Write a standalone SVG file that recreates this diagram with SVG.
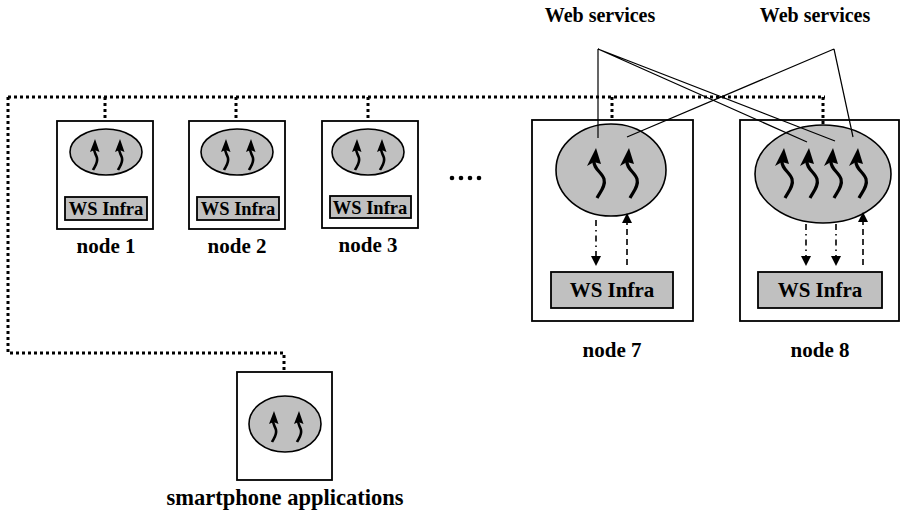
<svg xmlns="http://www.w3.org/2000/svg" width="902" height="516" viewBox="0 0 902 516">
  <style>
    .box { fill: #fff; stroke: #000; stroke-width: 1.8; }
    .proc { fill: #c0c0c0; stroke: #000; stroke-width: 1.6; }
    .infra { fill: #c0c0c0; stroke: #000; stroke-width: 1.8; }
    .bus { fill: none; stroke: #000; stroke-width: 3; stroke-dasharray: 3 3; }
    .thread { fill: none; stroke: #000; stroke-width: 3.2; }
    .thin { fill: none; stroke: #000; stroke-width: 2.6; }
    .wire { fill: none; stroke: #000; stroke-width: 1.2; }
    .call { fill: none; stroke: #000; stroke-width: 1.6; stroke-dasharray: 6 4 1.5 4; }
    .reply { fill: none; stroke: #000; stroke-width: 1.6; stroke-dasharray: 6 4; }
    .lbl { font-size: 21px; }
    .ws { font-size: 18.5px; }
    .wsb { font-size: 21px; }
    .svc { font-size: 20px; }
  </style>
  <defs>
    <marker id="ah" viewBox="0 0 10 10" refX="9" refY="5" markerWidth="12" markerHeight="10" markerUnits="userSpaceOnUse" orient="auto">
      <path d="M0,0 L10,5 L0,10 Z" fill="#000"/>
    </marker>
    <!-- thread glyphs: wavy shaft topped by an arrowhead, tip at the origin -->
    <g id="bigThread">
      <path class="thread" d="M1,50 C4,44 10,38 8,31 C6,24 -3,21 -2,12"/>
      <path d="M0,0 L-9,18 L-2,14 L5,16 Z" fill="#000"/>
    </g>
    <g id="smallThread">
      <path class="thin" d="M-2,31 C0,27 3,24 2,19 C1,15 -1,14 -1,9"/>
      <path d="M0,0 L-5,13 L-0.5,11 L4.5,13 Z" fill="#000"/>
    </g>
  </defs>

  <g id="ws-label-1"><text class="svc" x="600" y="22" font-family="'Liberation Serif', 'Times New Roman', Times, serif" font-weight="bold" text-anchor="middle">Web services</text></g>
  <g id="ws-label-2"><text class="svc" x="815" y="22" font-family="'Liberation Serif', 'Times New Roman', Times, serif" font-weight="bold" text-anchor="middle">Web services</text></g>

  <g id="node1">
    <rect class="box" x="57" y="121" width="96" height="108"/>
    <ellipse class="proc" cx="106" cy="152" rx="36" ry="23"/>
    <use href="#smallThread" x="95" y="139"/>
    <use href="#smallThread" x="120" y="139"/>
    <rect class="infra" x="65" y="197" width="82" height="23"/>
    <text class="ws" x="106" y="215" font-family="'Liberation Serif', 'Times New Roman', Times, serif" font-weight="bold" text-anchor="middle">WS Infra</text>
    <text class="lbl" x="106" y="253" font-family="'Liberation Serif', 'Times New Roman', Times, serif" font-weight="bold" text-anchor="middle">node 1</text>
  </g>

  <g id="node2">
    <rect class="box" x="189" y="121" width="96" height="108"/>
    <ellipse class="proc" cx="237" cy="152" rx="36" ry="23"/>
    <use href="#smallThread" x="226" y="139"/>
    <use href="#smallThread" x="251" y="139"/>
    <rect class="infra" x="197" y="197" width="82" height="23"/>
    <text class="ws" x="238" y="215" font-family="'Liberation Serif', 'Times New Roman', Times, serif" font-weight="bold" text-anchor="middle">WS Infra</text>
    <text class="lbl" x="237" y="253" font-family="'Liberation Serif', 'Times New Roman', Times, serif" font-weight="bold" text-anchor="middle">node 2</text>
  </g>

  <g id="node3">
    <rect class="box" x="322" y="121" width="96" height="107"/>
    <ellipse class="proc" cx="368" cy="152" rx="36" ry="23"/>
    <use href="#smallThread" x="357" y="139"/>
    <use href="#smallThread" x="382" y="139"/>
    <rect class="infra" x="330" y="196" width="81" height="22"/>
    <text class="ws" x="370" y="214" font-family="'Liberation Serif', 'Times New Roman', Times, serif" font-weight="bold" text-anchor="middle">WS Infra</text>
    <text class="lbl" x="368" y="252" font-family="'Liberation Serif', 'Times New Roman', Times, serif" font-weight="bold" text-anchor="middle">node 3</text>
  </g>

  <g id="ellipsis">
    <circle cx="452" cy="178" r="2.3"/>
    <circle cx="461" cy="178" r="2.3"/>
    <circle cx="470" cy="178" r="2.3"/>
    <circle cx="479" cy="178" r="2.3"/>
  </g>

  <g id="node7">
    <rect class="box" x="532" y="120" width="161" height="201"/>
    <ellipse class="proc" cx="611" cy="170" rx="55" ry="46"/>
    <use href="#bigThread" x="596" y="148"/>
    <use href="#bigThread" x="629" y="148"/>
    <rect class="infra" x="551" y="272" width="122" height="36"/>
    <text class="wsb" x="612" y="297" font-family="'Liberation Serif', 'Times New Roman', Times, serif" font-weight="bold" text-anchor="middle">WS Infra</text>
    <text class="lbl" x="612" y="357" font-family="'Liberation Serif', 'Times New Roman', Times, serif" font-weight="bold" text-anchor="middle">node 7</text>
  </g>

  <g id="node8">
    <rect class="box" x="740" y="120" width="159" height="201"/>
    <ellipse class="proc" cx="823" cy="174" rx="68" ry="49"/>
    <use href="#bigThread" x="784" y="148"/>
    <use href="#bigThread" x="809" y="148"/>
    <use href="#bigThread" x="833" y="148"/>
    <use href="#bigThread" x="858" y="148"/>
    <rect class="infra" x="758" y="272" width="124" height="36"/>
    <text class="wsb" x="820" y="297" font-family="'Liberation Serif', 'Times New Roman', Times, serif" font-weight="bold" text-anchor="middle">WS Infra</text>
    <text class="lbl" x="820" y="357" font-family="'Liberation Serif', 'Times New Roman', Times, serif" font-weight="bold" text-anchor="middle">node 8</text>
  </g>

  <g id="smartphone">
    <rect class="box" x="237" y="372" width="95" height="108"/>
    <ellipse class="proc" cx="285" cy="424" rx="36" ry="28"/>
    <use href="#smallThread" x="274" y="411"/>
    <use href="#smallThread" x="299" y="411"/>
    <text x="285" y="505" font-size="22.5" font-family="'Liberation Serif', 'Times New Roman', Times, serif" font-weight="bold" text-anchor="middle">smartphone applications</text>
  </g>

  <!-- connectors, drawn last so they sit on top of the node boxes -->
  <g id="connectors">
    <path class="bus" d="M8,97 H825 M8,97 V353 H284 V372 M105,97 V121 M236,97 V121 M368,97 V121 M612,97 V120 M823,97 V127"/>
    <path class="wire" d="M598,49 V138 M598,49 L807,142 M598,49 L835,141 M834,49 L627,137 M834,49 L853,137"/>
    <path class="call" marker-end="url(#ah)" d="M596,220 V265"/>
    <path class="reply" marker-end="url(#ah)" d="M627,265 V214"/>
    <path class="call" marker-end="url(#ah)" d="M806,224 V265"/>
    <path class="call" marker-end="url(#ah)" d="M836,224 V265"/>
    <path class="reply" marker-end="url(#ah)" d="M863,265 V213"/>
  </g>
</svg>
